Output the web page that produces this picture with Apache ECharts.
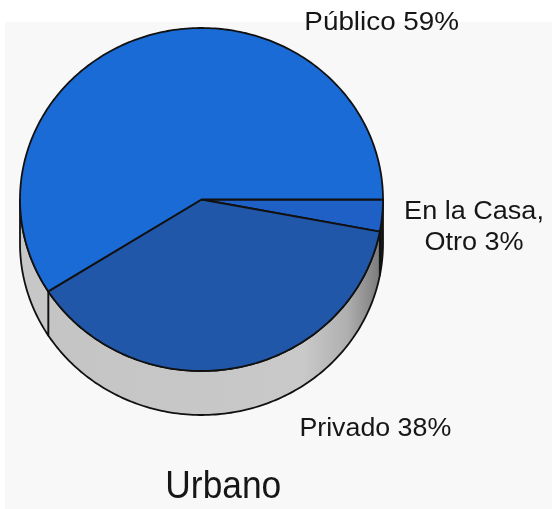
<!DOCTYPE html>
<html>
<head>
<meta charset="utf-8">
<script src="https://cdn.jsdelivr.net/npm/echarts@6/dist/echarts.min.js"></script>
<style>
  html, body { margin: 0; padding: 0; background: #ffffff; }
  #chart { width: 552px; height: 509px; }
</style>
</head>
<body>
<div id="chart"></div>
<script>
// Shares of each category, listed clockwise from the 3 o'clock position
const categories = ['En la Casa,\nOtro', 'Privado', 'Público'];
const shares = [3, 38, 59];
const chartTitle = 'Urbano';

// Drawing styles (kept apart from the data)
const topColors = ['#1e60c6', '#2157a9', '#1b6bd6'];
const labelAnchors = [[474, 227.4], [375.3, 428.8], [381.7, 22.5]];
const labelScaleX = [1.04, 1.03, 1.07];

// Tilted pie geometry: elliptical top face plus a visible side wall
const CX = 201.5, CY = 199.5, RX = 181.5, RY = 171.5, DEPTH = 44;

function pt(deg, dy) {
  const r = deg * Math.PI / 180;
  return [CX + RX * Math.cos(r), CY - RY * Math.sin(r) + (dy || 0)];
}
function arc(a, b, dy) {
  const n = Math.max(2, Math.ceil(Math.abs(b - a)));
  const pts = [];
  for (let i = 0; i <= n; i++) pts.push(pt(a + (b - a) * i / n, dy));
  return pts;
}

const total = shares.reduce((s, v) => s + v, 0);
const startFrac = [];
shares.reduce((acc, v, i) => { startFrac[i] = acc; return acc + v; }, 0);

const privadoWall = new echarts.graphic.LinearGradient(20, 0, 383, 0, [
  { offset: 0, color: '#c4c4c4' },
  { offset: 0.78, color: '#c9c9c9' },
  { offset: 0.9, color: '#b0b0b0' },
  { offset: 1, color: '#767676' }
], true);
const wallColors = ['#16181e', privadoWall, '#c7c7c7'];

function renderSlice(params, api) {
  const i = params.dataIndex;
  const v = api.value(0);
  const a1 = -startFrac[i] / total * 360;
  const a2 = -(startFrac[i] + v) / total * 360;
  const children = [];

  // front-facing part of the side wall (lower half of the ellipse)
  const hi = Math.min(a1, 0), lo = Math.max(a2, -180);
  if (hi > lo) {
    children.push({
      type: 'polygon',
      z2: 1,
      shape: { points: arc(hi, lo, 0).concat(arc(lo, hi, DEPTH)) },
      style: { fill: wallColors[i], stroke: '#111111', lineWidth: 1.8, lineJoin: 'round' }
    });
  }

  // top face of the slice
  children.push({
    type: 'polygon',
    z2: 10,
    shape: { points: [[CX, CY]].concat(arc(a1, a2, 0)) },
    style: { fill: topColors[i], stroke: '#111111', lineWidth: 1.8, lineJoin: 'round' }
  });

  // category label with its share
  children.push({
    type: 'text',
    z2: 20,
    x: labelAnchors[i][0],
    y: labelAnchors[i][1],
    scaleX: labelScaleX[i],
    style: {
      text: categories[i] + ' ' + v + '%',
      fontFamily: 'Liberation Sans',
      fontSize: 26,
      lineHeight: 31,
      fill: '#161616',
      align: 'center',
      verticalAlign: 'middle'
    }
  });

  return { type: 'group', children: children };
}

const chart = echarts.init(document.getElementById('chart'), null, { renderer: 'canvas' });
chart.setOption({
  backgroundColor: '#ffffff',
  animation: false,
  graphic: [
    {
      type: 'rect', z: -10, silent: true,
      shape: { x: 5, y: 22, width: 547, height: 487 },
      style: { fill: '#f8f8f8' }
    },
    {
      type: 'text', z: 5,
      x: 223.3, y: 487.3, scaleX: 0.93,
      style: {
        text: chartTitle,
        fontFamily: 'Liberation Sans',
        fontSize: 38,
        fill: '#161616',
        align: 'center',
        verticalAlign: 'middle'
      }
    }
  ],
  series: [{
    type: 'custom',
    coordinateSystem: 'none',
    renderItem: renderSlice,
    data: shares.map((v, i) => ({ name: categories[i], value: [v] }))
  }]
});
</script>
</body>
</html>
